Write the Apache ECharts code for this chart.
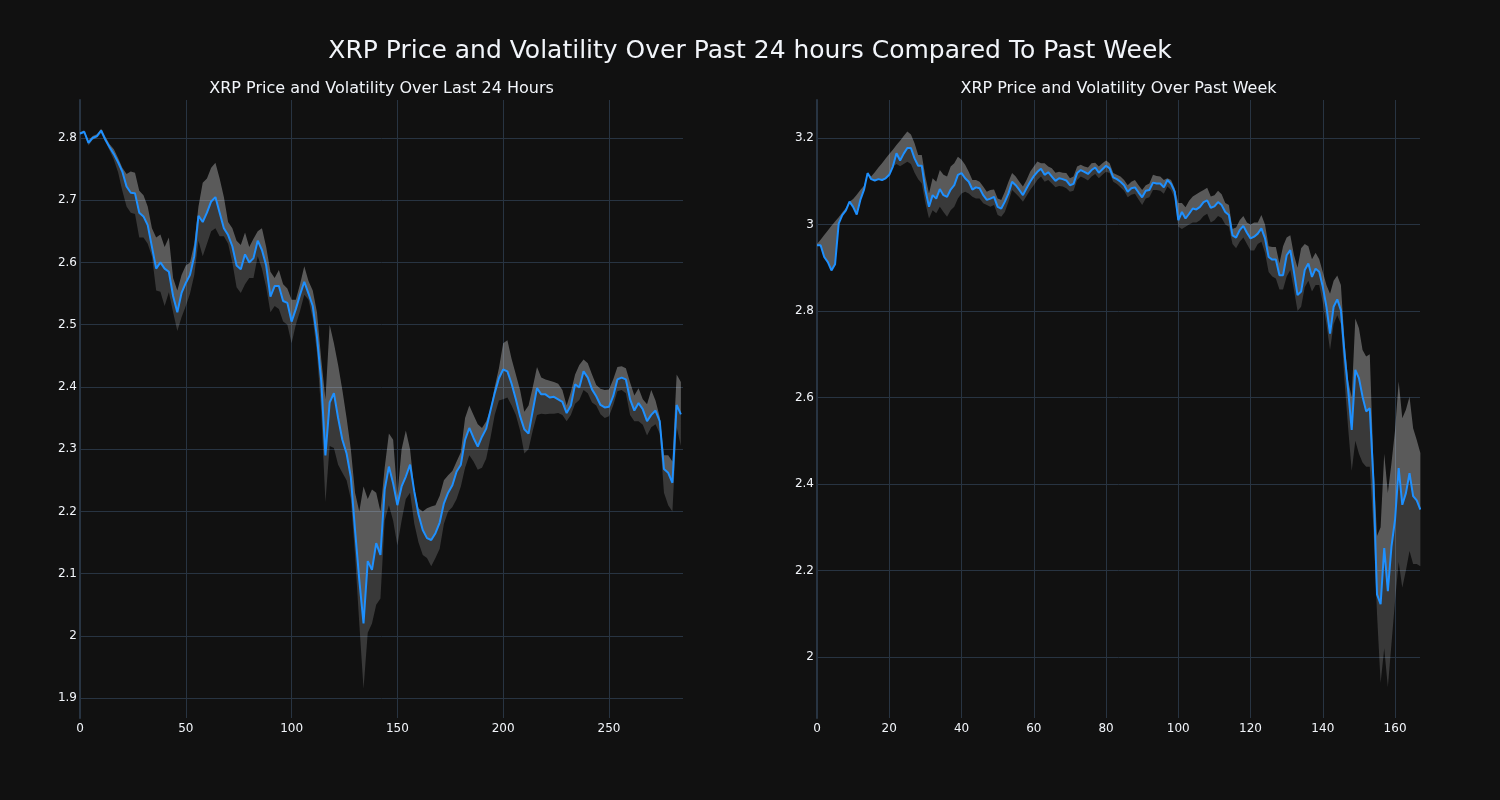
<!DOCTYPE html>
<html>
<head>
<meta charset="utf-8">
<style>
html,body{margin:0;padding:0;background:#111111;}
#chart{width:1500px;height:800px;}
</style>
<script src="https://cdn.jsdelivr.net/npm/echarts@6/dist/echarts.min.js"></script>
</head>
<body>
<div id="chart"></div>
<script>
// ---- Titles ----
const mainTitle = 'XRP Price and Volatility Over Past 24 hours Compared To Past Week';
const leftTitle = 'XRP Price and Volatility Over Last 24 Hours';
const rightTitle = 'XRP Price and Volatility Over Past Week';

// ---- Left chart (last 24 hours), one value every 2 steps ----
const leftStep = 2;
const leftPrice = [
2.807, 2.810, 2.792, 2.800, 2.803, 2.812, 2.797, 2.785, 2.774, 2.761,
2.746, 2.722, 2.712, 2.711, 2.680, 2.674, 2.660, 2.625, 2.590, 2.600,
2.590, 2.585, 2.546, 2.520, 2.551, 2.567, 2.580, 2.610, 2.675, 2.665,
2.680, 2.698, 2.705, 2.680, 2.655, 2.644, 2.626, 2.595, 2.589, 2.613,
2.600, 2.607, 2.635, 2.620, 2.595, 2.545, 2.562, 2.562, 2.538, 2.535,
2.505, 2.525, 2.548, 2.569, 2.550, 2.530, 2.480, 2.410, 2.290, 2.375,
2.390, 2.350, 2.315, 2.293, 2.255, 2.170, 2.090, 2.020, 2.120, 2.106,
2.149, 2.130, 2.235, 2.272, 2.245, 2.210, 2.240, 2.256, 2.275, 2.232,
2.195, 2.170, 2.157, 2.154, 2.165, 2.182, 2.213, 2.230, 2.242, 2.264,
2.275, 2.315, 2.334, 2.318, 2.304, 2.320, 2.333, 2.362, 2.390, 2.414,
2.428, 2.425, 2.405, 2.380, 2.353, 2.332, 2.325, 2.362, 2.398, 2.388,
2.388, 2.383, 2.384, 2.380, 2.376, 2.358, 2.370, 2.404, 2.399, 2.425,
2.415, 2.396, 2.385, 2.371, 2.367, 2.368, 2.385, 2.412, 2.415, 2.412,
2.380, 2.362, 2.374, 2.364, 2.345, 2.355, 2.362, 2.345, 2.268, 2.262,
2.246, 2.371, 2.356
];
const leftUpper = [
2.809, 2.812, 2.796, 2.803, 2.806, 2.815, 2.802, 2.790, 2.782, 2.768,
2.752, 2.742, 2.746, 2.744, 2.715, 2.708, 2.690, 2.655, 2.640, 2.645,
2.625, 2.640, 2.575, 2.555, 2.580, 2.595, 2.600, 2.630, 2.690, 2.728,
2.735, 2.752, 2.760, 2.735, 2.705, 2.665, 2.655, 2.635, 2.628, 2.648,
2.625, 2.638, 2.650, 2.655, 2.625, 2.585, 2.575, 2.588, 2.565, 2.558,
2.540, 2.540, 2.565, 2.594, 2.570, 2.555, 2.520, 2.445, 2.380, 2.500,
2.470, 2.435, 2.395, 2.350, 2.300, 2.230, 2.200, 2.240, 2.220, 2.235,
2.230, 2.200, 2.270, 2.325, 2.315, 2.225, 2.300, 2.330, 2.300, 2.235,
2.205, 2.200, 2.205, 2.208, 2.210, 2.225, 2.250, 2.258, 2.265, 2.280,
2.295, 2.350, 2.370, 2.355, 2.340, 2.334, 2.345, 2.365, 2.400, 2.430,
2.470, 2.475, 2.445, 2.420, 2.395, 2.360, 2.370, 2.400, 2.432, 2.415,
2.412, 2.410, 2.408, 2.405, 2.395, 2.370, 2.392, 2.420, 2.435, 2.444,
2.438, 2.420, 2.403, 2.397, 2.395, 2.396, 2.412, 2.432, 2.433, 2.430,
2.407, 2.386, 2.398, 2.380, 2.372, 2.395, 2.378, 2.352, 2.290, 2.290,
2.280, 2.420, 2.408
];
const leftLower = [
2.805, 2.808, 2.788, 2.797, 2.800, 2.808, 2.794, 2.780, 2.765, 2.745,
2.715, 2.690, 2.680, 2.678, 2.640, 2.640, 2.630, 2.610, 2.555, 2.553,
2.530, 2.552, 2.520, 2.490, 2.512, 2.530, 2.550, 2.580, 2.635, 2.610,
2.630, 2.650, 2.655, 2.642, 2.642, 2.630, 2.600, 2.560, 2.551, 2.565,
2.575, 2.575, 2.610, 2.590, 2.560, 2.520, 2.530, 2.525, 2.505, 2.500,
2.470, 2.500, 2.522, 2.548, 2.540, 2.510, 2.455, 2.360, 2.215, 2.305,
2.302, 2.275, 2.262, 2.250, 2.220, 2.130, 2.020, 1.915, 2.005, 2.020,
2.050, 2.060, 2.185, 2.210, 2.185, 2.145, 2.185, 2.220, 2.230, 2.180,
2.150, 2.130, 2.125, 2.112, 2.125, 2.140, 2.180, 2.200, 2.207, 2.220,
2.240, 2.270, 2.290, 2.280, 2.267, 2.270, 2.285, 2.318, 2.355, 2.378,
2.380, 2.383, 2.370, 2.355, 2.330, 2.293, 2.300, 2.330, 2.355, 2.357,
2.356, 2.357, 2.357, 2.358, 2.355, 2.345, 2.355, 2.373, 2.379, 2.395,
2.390, 2.375, 2.370, 2.356, 2.350, 2.353, 2.370, 2.393, 2.395, 2.390,
2.355, 2.345, 2.345, 2.339, 2.322, 2.335, 2.340, 2.325, 2.230, 2.210,
2.200, 2.335, 2.305
];
const leftXTicks = [0, 50, 100, 150, 200, 250];
const leftYTicks = [1.9, 2, 2.1, 2.2, 2.3, 2.4, 2.5, 2.6, 2.7, 2.8];

// ---- Right chart (past week), hourly ----
const rightPrice = [
2.952, 2.952, 2.925, 2.913, 2.894, 2.908, 3.002, 3.022, 3.033, 3.053,
3.041, 3.023, 3.057, 3.080, 3.119, 3.105, 3.102, 3.105, 3.103, 3.107,
3.115, 3.134, 3.165, 3.148, 3.164, 3.177, 3.177, 3.153, 3.136, 3.136,
3.080, 3.041, 3.068, 3.060, 3.082, 3.068, 3.064, 3.081, 3.091, 3.115,
3.119, 3.107, 3.099, 3.081, 3.086, 3.084, 3.068, 3.057, 3.060, 3.064,
3.041, 3.037, 3.053, 3.072, 3.099, 3.091, 3.080, 3.068, 3.084, 3.099,
3.112, 3.122, 3.129, 3.115, 3.121, 3.111, 3.101, 3.107, 3.105, 3.102,
3.091, 3.094, 3.119, 3.126, 3.122, 3.117, 3.126, 3.132, 3.120, 3.128,
3.136, 3.130, 3.109, 3.105, 3.099, 3.091, 3.076, 3.084, 3.086, 3.074,
3.063, 3.078, 3.080, 3.097, 3.095, 3.095, 3.086, 3.103, 3.094, 3.076,
3.010, 3.029, 3.014, 3.025, 3.037, 3.035, 3.041, 3.052, 3.056, 3.039,
3.042, 3.052, 3.045, 3.029, 3.022, 2.975, 2.970, 2.987, 2.997, 2.981,
2.968, 2.972, 2.979, 2.991, 2.968, 2.925, 2.919, 2.919, 2.883, 2.883,
2.929, 2.941, 2.891, 2.837, 2.845, 2.895, 2.910, 2.879, 2.898, 2.891,
2.856, 2.810, 2.748, 2.810, 2.827, 2.802, 2.702, 2.618, 2.525, 2.664,
2.645, 2.602, 2.568, 2.575, 2.410, 2.145, 2.122, 2.252, 2.152, 2.255,
2.318, 2.437, 2.352, 2.379, 2.425, 2.372, 2.362, 2.341
];
const rightUpper = [
2.955, 2.965, 2.976, 2.986, 2.997, 3.007, 3.017, 3.028, 3.038, 3.053,
3.059, 3.069, 3.080, 3.090, 3.119, 3.111, 3.121, 3.132, 3.142, 3.153,
3.163, 3.173, 3.184, 3.194, 3.205, 3.215, 3.208, 3.188, 3.161, 3.161,
3.111, 3.072, 3.107, 3.099, 3.126, 3.115, 3.111, 3.134, 3.142, 3.157,
3.150, 3.138, 3.122, 3.103, 3.103, 3.099, 3.088, 3.076, 3.080, 3.081,
3.060, 3.057, 3.076, 3.099, 3.119, 3.111, 3.099, 3.088, 3.103, 3.122,
3.134, 3.146, 3.142, 3.142, 3.134, 3.130, 3.120, 3.122, 3.120, 3.119,
3.107, 3.111, 3.134, 3.138, 3.134, 3.132, 3.142, 3.143, 3.134, 3.142,
3.148, 3.142, 3.119, 3.115, 3.111, 3.103, 3.091, 3.099, 3.103, 3.091,
3.080, 3.091, 3.095, 3.115, 3.112, 3.111, 3.103, 3.107, 3.103, 3.084,
3.050, 3.050, 3.040, 3.055, 3.065, 3.070, 3.075, 3.080, 3.085, 3.065,
3.068, 3.078, 3.070, 3.050, 3.045, 2.990, 2.993, 3.010, 3.020, 3.005,
3.000, 3.005, 3.005, 3.022, 3.000, 2.950, 2.948, 2.948, 2.910, 2.950,
2.970, 2.975, 2.930, 2.900, 2.945, 2.955, 2.950, 2.920, 2.935, 2.920,
2.890, 2.860, 2.840, 2.870, 2.882, 2.860, 2.730, 2.640, 2.600, 2.783,
2.760, 2.710, 2.695, 2.700, 2.450, 2.280, 2.300, 2.470, 2.379, 2.448,
2.525, 2.637, 2.552, 2.572, 2.602, 2.529, 2.502, 2.472
];
const rightLower = [
2.952, 2.952, 2.925, 2.913, 2.894, 2.908, 3.002, 3.022, 3.033, 3.053,
3.041, 3.023, 3.057, 3.080, 3.119, 3.105, 3.102, 3.105, 3.103, 3.107,
3.115, 3.134, 3.140, 3.135, 3.140, 3.145, 3.140, 3.120, 3.105, 3.095,
3.049, 3.014, 3.033, 3.026, 3.041, 3.029, 3.018, 3.033, 3.041, 3.060,
3.072, 3.076, 3.072, 3.064, 3.060, 3.060, 3.049, 3.045, 3.041, 3.045,
3.022, 3.018, 3.029, 3.053, 3.080, 3.072, 3.063, 3.053, 3.066, 3.080,
3.091, 3.103, 3.111, 3.099, 3.103, 3.095, 3.086, 3.089, 3.088, 3.084,
3.076, 3.078, 3.103, 3.111, 3.107, 3.102, 3.111, 3.117, 3.107, 3.115,
3.122, 3.119, 3.099, 3.094, 3.086, 3.078, 3.063, 3.069, 3.071, 3.058,
3.045, 3.060, 3.063, 3.080, 3.080, 3.078, 3.071, 3.088, 3.080, 3.060,
2.995, 2.990, 2.995, 3.000, 3.005, 3.005, 3.010, 3.020, 3.025, 3.005,
3.010, 3.020, 3.015, 3.000, 2.995, 2.955, 2.945, 2.960, 2.970, 2.955,
2.940, 2.940, 2.955, 2.960, 2.935, 2.890, 2.880, 2.875, 2.850, 2.850,
2.880, 2.895, 2.850, 2.800, 2.810, 2.855, 2.870, 2.845, 2.860, 2.860,
2.820, 2.770, 2.710, 2.770, 2.790, 2.770, 2.640, 2.530, 2.430, 2.500,
2.470, 2.450, 2.440, 2.440, 2.300, 2.100, 1.940, 2.020, 1.930, 2.030,
2.130, 2.220, 2.160, 2.200, 2.245, 2.215, 2.215, 2.210
];
const rightXTicks = [0, 20, 40, 60, 80, 100, 120, 140, 160];
const rightYTicks = [2, 2.2, 2.4, 2.6, 2.8, 3, 3.2];

// ---- build ----
const leftX = leftPrice.map((_, i) => i * leftStep);
const rightX = rightPrice.map((_, i) => i);

const textColor = '#f2f5fa';
const gridColor = '#283442';
const FONT = 'DejaVu Sans';

function pairs(xs, ys) { return ys.map((v, i) => [xs[i], v]); }

function band(idx, xs, top, bottom, fill) {
  return {
    type: 'custom',
    xAxisIndex: idx, yAxisIndex: idx,
    silent: true, z: 1,
    data: [[xs[0], bottom[0]]],
    encode: { x: 0, y: 1 },
    renderItem: function (params, api) {
      const pts = [];
      for (let i = 0; i < xs.length; i++) pts.push(api.coord([xs[i], top[i]]));
      for (let i = xs.length - 1; i >= 0; i--) pts.push(api.coord([xs[i], bottom[i]]));
      return { type: 'polygon', shape: { points: pts }, style: { fill: fill } };
    }
  };
}

function xAxis(idx, max, ticks) {
  return {
    type: 'value', gridIndex: idx, min: 0, max: max,
    axisLine: { show: false, onZero: false },
    axisTick: { show: false, customValues: ticks },
    axisLabel: { customValues: ticks, color: textColor, fontSize: 12, fontFamily: FONT, margin: 5 },
    splitLine: { show: true, lineStyle: { color: gridColor, width: 1 } }
  };
}
function yAxis(idx, min, max, ticks) {
  return {
    type: 'value', gridIndex: idx, min: min, max: max,
    axisLine: { show: true, onZero: false, lineStyle: { color: gridColor, width: 2 } },
    axisTick: { show: false, customValues: ticks },
    axisLabel: { customValues: ticks, color: textColor, fontSize: 12, fontFamily: FONT, margin: 3 },
    splitLine: { show: true, lineStyle: { color: gridColor, width: 1 } }
  };
}

const LIGHT = 'rgba(255,255,255,0.31)';
const DARK = 'rgba(255,255,255,0.17)';

const option = {
  backgroundColor: '#111111',
  animation: false,
  title: [
    { text: mainTitle, left: 750, top: 51, textAlign: 'center', textVerticalAlign: 'middle', padding: 0,
      textStyle: { color: textColor, fontSize: 25, fontWeight: 'normal', fontFamily: FONT } },
    { text: leftTitle, left: 381.5, top: 89, textAlign: 'center', textVerticalAlign: 'middle', padding: 0,
      textStyle: { color: textColor, fontSize: 16, fontWeight: 'normal', fontFamily: FONT } },
    { text: rightTitle, left: 1118.5, top: 89, textAlign: 'center', textVerticalAlign: 'middle', padding: 0,
      textStyle: { color: textColor, fontSize: 16, fontWeight: 'normal', fontFamily: FONT } }
  ],
  grid: [
    { left: 80, top: 100, width: 603, height: 618, containLabel: false },
    { left: 817, top: 100, width: 603, height: 618, containLabel: false }
  ],
  xAxis: [xAxis(0, 285, leftXTicks), xAxis(1, 166.9, rightXTicks)],
  yAxis: [yAxis(0, 1.868, 2.861, leftYTicks), yAxis(1, 1.859, 3.288, rightYTicks)],
  series: [
    band(0, leftX, leftUpper, leftPrice, LIGHT),
    band(0, leftX, leftPrice, leftLower, DARK),
    { type: 'line', xAxisIndex: 0, yAxisIndex: 0, data: pairs(leftX, leftPrice), symbol: 'none', z: 3,
      lineStyle: { color: '#1e90ff', width: 2 } },
    band(1, rightX, rightUpper, rightPrice, LIGHT),
    band(1, rightX, rightPrice, rightLower, DARK),
    { type: 'line', xAxisIndex: 1, yAxisIndex: 1, data: pairs(rightX, rightPrice), symbol: 'none', z: 3,
      lineStyle: { color: '#1e90ff', width: 2 } }
  ]
};

const chart = echarts.init(document.getElementById('chart'), null, { renderer: 'canvas' });
chart.setOption(option);
</script>
</body>
</html>
